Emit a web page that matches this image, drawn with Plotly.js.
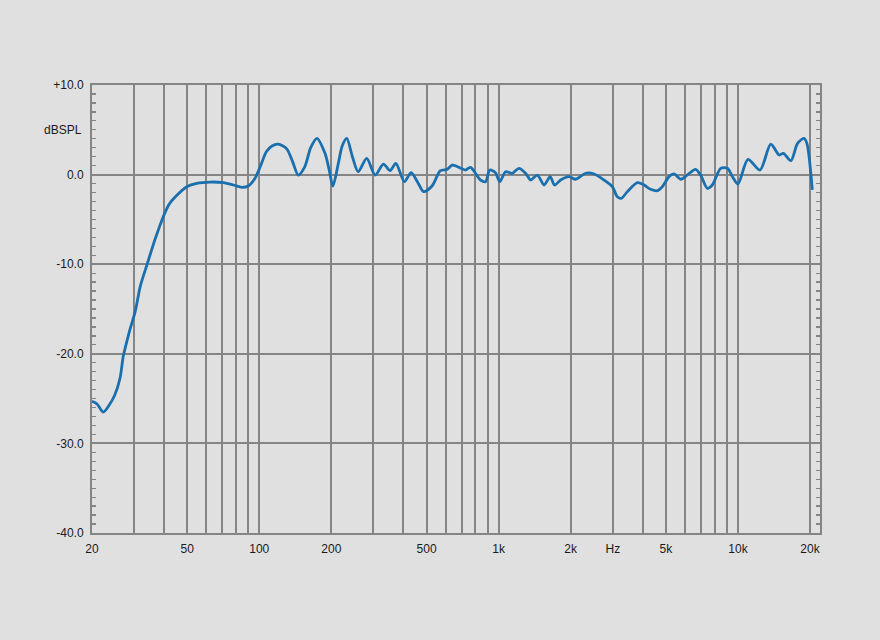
<!DOCTYPE html>
<html>
<head>
<meta charset="utf-8">
<script src="https://cdn.plot.ly/plotly-3.0.1.min.js"></script>
<style>html,body{margin:0;padding:0;background:#e0e0e0;}#chart{width:880px;height:640px;}</style>
</head>
<body>
<div id="chart"></div>
<script>
// Frequency response data (Hz, dBSPL)
const freq = [20,21,22.3,23.5,24.9,26.2,27.0,27.5,28.8,30.3,31.8,33.9,35.5,36.6,39.7,42,44.5,49.8,54.8,62.3,70.8,78,84.5,90,96,101,107,113,120,130,138,145.5,155,164,174,188,196,203,214,222,232,245,259,281,305,330,352,372,404,431,460,486,527,571,610,640,682,727,763,840,882,919,970,1012,1069,1140,1216,1297,1361,1452,1549,1641,1714,1816,1968,2099,2312,2506,2754,2985,3133,3258,3451,3802,4055,4315,4603,4831,5152,5408,5768,6138,6653,6982,7447,7816,8472,9036,9484,10000,11015,12359,13709,14859,15488,16634,17742,18880,19410,20450];
const spl = [-25.3,-25.6,-26.5,-25.8,-24.6,-22.7,-20.3,-19.4,-17.3,-15.3,-12.5,-10.1,-8.4,-7.3,-4.7,-3.3,-2.5,-1.35,-0.97,-0.83,-0.9,-1.16,-1.42,-1.27,-0.4,0.9,2.56,3.2,3.4,2.9,1.4,-0.05,0.9,3.0,4.05,2.4,0.5,-1.27,1.26,3.2,4.05,2.0,0.32,1.8,-0.05,1.18,0.44,1.26,-0.79,0.21,-0.9,-1.9,-1.27,0.44,0.59,1.07,0.81,0.51,0.81,-0.6,-0.79,0.51,0.21,-0.79,0.32,0.15,0.7,0.15,-0.6,-0.05,-1.16,-0.23,-1.16,-0.6,-0.23,-0.52,0.15,0.07,-0.6,-1.35,-2.47,-2.65,-1.9,-0.9,-1.16,-1.64,-1.8,-1.35,-0.23,0.07,-0.52,-0.05,0.59,-0.05,-1.53,-1.16,0.7,0.7,-0.23,-1.05,1.7,0.51,3.4,2.19,2.37,1.55,3.49,4.05,3.49,-1.7];

// Axis ticks
const xGrid = [20,30,40,50,60,70,80,90,100,200,300,400,500,600,700,800,900,1000,2000,3000,4000,5000,6000,7000,8000,9000,10000,20000];
const xLabels = ['20','','','50','','','','','100','200','','','500','','','','','1k','2k','Hz','','5k','','','','','10k','20k'];
const yTicks = [-40,-30,-20,-10,0,10];
const yLabels = ['-40.0','-30.0','-20.0','-10.0','0.0','+10.0'];
const yUnit = 'dBSPL';

const gridColor = '#858585';
const fontFam = 'Liberation Sans, Arial, sans-serif';
const trace = {
  x: freq, y: spl, type: 'scatter', mode: 'lines',
  line: {color: '#1a6fae', width: 2.8, shape: 'spline', smoothing: 0.8},
  hoverinfo: 'skip'
};
const dummy = {x: [], y: [], type: 'scatter', mode: 'lines', yaxis: 'y2', hoverinfo: 'skip'};
const minorTicks = {dtick: 1, ticks: 'inside', ticklen: 4, tickcolor: gridColor, tickwidth: 1.3, showgrid: false};
const layout = {
  width: 880, height: 640,
  paper_bgcolor: '#e0e0e0', plot_bgcolor: '#e0e0e0',
  margin: {l: 92, r: 60, t: 85, b: 107},
  showlegend: false,
  font: {family: fontFam, size: 12, color: '#1a1a1a'},
  xaxis: {
    type: 'log', range: [Math.log10(20), Math.log10(20000) + 0.0418],
    tickmode: 'array', tickvals: xGrid, ticktext: xLabels,
    showgrid: true, gridcolor: gridColor, gridwidth: 2,
    showline: true, linecolor: gridColor, linewidth: 2, mirror: true,
    ticks: '', zeroline: false, fixedrange: true, ticklabelstandoff: 4
  },
  yaxis: {
    range: [-40, 10],
    tickmode: 'array', tickvals: yTicks, ticktext: yLabels,
    showgrid: true, gridcolor: gridColor, gridwidth: 2,
    showline: true, linecolor: gridColor, linewidth: 2, mirror: true,
    ticks: 'inside', ticklen: 4, tickcolor: gridColor, tickwidth: 1.3,
    minor: minorTicks,
    zeroline: false, fixedrange: true, ticklabelstandoff: 4
  },
  yaxis2: {
    overlaying: 'y', side: 'right', range: [-40, 10],
    tickmode: 'array', tickvals: yTicks, showticklabels: false,
    showgrid: false, showline: false, zeroline: false, fixedrange: true,
    ticks: 'inside', ticklen: 4, tickcolor: gridColor, tickwidth: 1.3,
    minor: minorTicks
  },
  annotations: [{
    xref: 'paper', yref: 'y', x: 0, y: 5, xanchor: 'right', yanchor: 'middle',
    xshift: -8, text: yUnit, showarrow: false,
    font: {family: fontFam, size: 12, color: '#1a1a1a'}
  }]
};
Plotly.newPlot('chart', [trace, dummy], layout, {staticPlot: true, displayModeBar: false});
</script>
</body>
</html>
